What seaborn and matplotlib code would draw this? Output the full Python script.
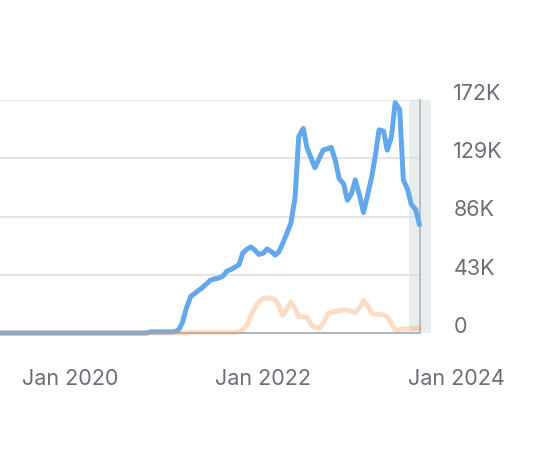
import pandas as pd
import matplotlib.pyplot as plt
import matplotlib.transforms as mtransforms
import seaborn as sns

# semimonthly points, values in thousands
dates = pd.date_range('2019-01-01', '2023-08-15', freq='SMS')

blue_2019_2020 = [0] * 44 + [0.8, 0.8, 0.8, 0.8]
blue_2021 = [0.8, 0.8, 1, 2.5, 8, 18, 27, 29, 31.5, 33.5, 36.5, 39,
             40, 40.5, 42, 45.5, 47, 48.5, 50.5, 59, 62, 63.5, 61, 58]
blue_2022 = [59, 62, 60, 57.5, 60, 66, 74, 81, 100, 145, 151, 137,
             129, 122, 129, 135, 136, 137, 127, 114, 110, 98, 103, 113]
blue_2023 = [101, 89, 103, 115, 131, 150, 149, 135, 145, 170, 165, 113,
             106, 95, 91, 80]

orange_2019_2020 = [0] * 48
orange_2021 = [0] * 6 + [0.5] * 12 + [1, 2.5, 6, 13, 19, 23]
orange_2022 = [25.5, 26, 25.5, 24.5, 20, 13, 18, 23, 18, 12, 12, 11.5,
               6, 4, 3.7, 7, 14, 15.3, 16, 16.5, 17, 17, 16, 14.8]
orange_2023 = [19, 24, 20, 14.8, 14, 13.7, 13.3, 12, 7, 2.2, 2.5, 3,
               3, 3.2, 3.5, 3.7]

y_ticks = [0, 43, 86, 129, 172]
y_labels = ['0', '43K', '86K', '129K', '172K']
x_ticks = ['2020-01-01', '2022-01-01']
x_labels = ['Jan 2020', 'Jan 2022']
extra_tick = '2024-01-01'
extra_label = 'Jan 2024'

df = pd.DataFrame({
    'date': dates,
    'blue': blue_2019_2020 + blue_2021 + blue_2022 + blue_2023,
    'orange': orange_2019_2020 + orange_2021 + orange_2022 + orange_2023,
})

sns.set_theme(style='white')
plt.rcParams['font.family'] = ['Inter', 'DejaVu Sans']

text_color = '#6c6d78'
fig = plt.figure(figsize=(5.52, 4.58), dpi=100)
ax = fig.add_axes([0, 1 - 333 / 458, 420 / 552, 233 / 458])

sns.lineplot(data=df, x='date', y='blue', ax=ax, color='#63a8ea', linewidth=3.6,
             solid_capstyle='round', solid_joinstyle='round', zorder=3, clip_on=False)
sns.lineplot(data=df, x='date', y='orange', ax=ax, color='#f3a061', alpha=0.35,
             linewidth=3.6, solid_capstyle='round', solid_joinstyle='round',
             zorder=4, clip_on=False)

ax.set_xlim(pd.Timestamp('2019-04-10'), pd.Timestamp('2023-08-17'))
ax.set_ylim(0, 172)

# shaded incomplete period
ax.axvspan(pd.Timestamp('2023-07-06'), pd.Timestamp('2023-09-27'),
           color='#e8eded', zorder=0.2, clip_on=False, lw=0)

ax.set_axisbelow(True)
ax.grid(axis='y', color='#dcdce2', linewidth=1.1)
ax.grid(axis='x', visible=False)

for side in ['top', 'left']:
    ax.spines[side].set_visible(False)
ax.spines['bottom'].set_color('#adb5bf')
ax.spines['bottom'].set_linewidth(1.4)
ax.spines['right'].set_color('#b6bcc2')
ax.spines['right'].set_linewidth(1.4)

ax.yaxis.tick_right()
ax.set_yticks(y_ticks)
ax.set_yticklabels(y_labels, fontsize=15.5, color=text_color, va='baseline')
ax.set_xticks(pd.to_datetime(x_ticks))
ax.set_xticklabels(x_labels, fontsize=15.5, color=text_color)
ax.tick_params(axis='y', length=0, pad=24)
ax.tick_params(axis='x', length=0, pad=26)
ax.set_xlabel('')
ax.set_ylabel('')

# last label lies past the end of the data
offset = mtransforms.ScaledTranslation(0, -26 / 72, fig.dpi_scale_trans)
ax.text(pd.Timestamp(extra_tick), 0, extra_label, fontsize=15.5, color=text_color,
        ha='center', va='top', transform=ax.get_xaxis_transform() + offset,
        clip_on=False)

plt.savefig('out.png', dpi=100)
